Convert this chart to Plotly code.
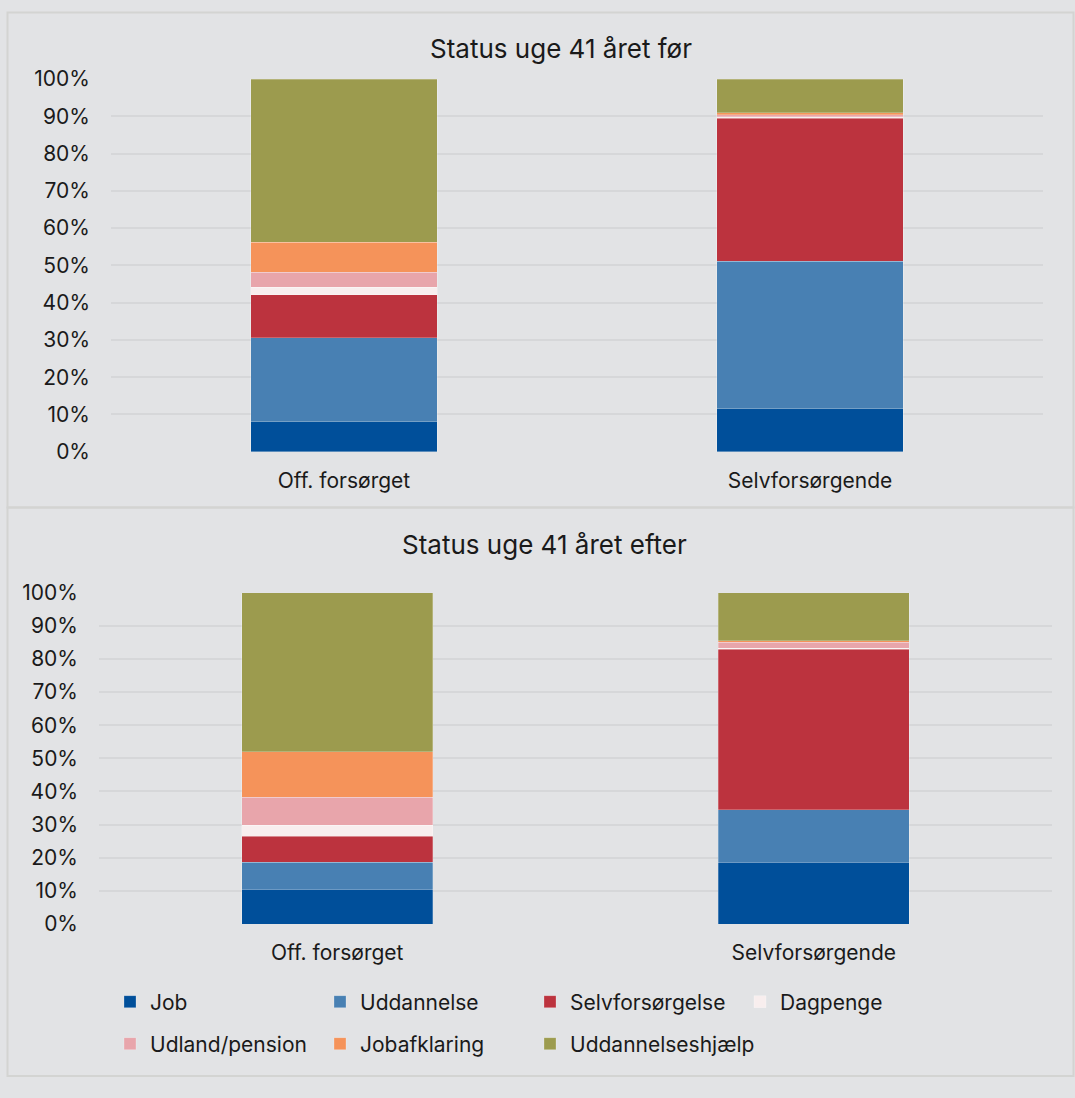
import plotly.graph_objs as go

# Kategorier og andele (procent)
kategorier = ["Off. forsørget", "Selvforsørgende"]
serier = ["Job", "Uddannelse", "Selvforsørgelse", "Dagpenge",
          "Udland/pension", "Jobafklaring", "Uddannelseshjælp"]

# Status uge 41 året før
job_foer = [8.0, 11.5]
uddannelse_foer = [22.6, 39.6]
selvforsoergelse_foer = [11.5, 38.4]
dagpenge_foer = [2.0, 0.4]
udland_foer = [4.1, 0.5]
jobafklaring_foer = [8.0, 0.5]
uddannelseshjaelp_foer = [43.8, 9.1]

# Status uge 41 året efter
job_efter = [10.5, 18.7]
uddannelse_efter = [8.1, 15.8]
selvforsoergelse_efter = [7.9, 48.5]
dagpenge_efter = [3.3, 0.3]
udland_efter = [8.4, 1.7]
jobafklaring_efter = [13.8, 0.5]
uddannelseshjaelp_efter = [48.0, 14.5]

y_ticks = [0, 10, 20, 30, 40, 50, 60, 70, 80, 90, 100]
y_labels = ["0%", "10%", "20%", "30%", "40%", "50%", "60%", "70%", "80%", "90%", "100%"]

farver = ["#004f9a", "#4880b3", "#bc333e", "#f8eeee",
          "#e8a5ab", "#f5935a", "#9c9b4e"]

W, H = 1075, 1098
FONT = "Inter, Roboto, sans-serif"
TXT = "#1a1a1a"
BG = "#e2e3e5"
GRID = "#d6d7d9"


def px(x):
    return x / W


def py(y):
    return 1 - y / H


fig = go.Figure()

foer = [job_foer, uddannelse_foer, selvforsoergelse_foer, dagpenge_foer,
        udland_foer, jobafklaring_foer, uddannelseshjaelp_foer]
efter = [job_efter, uddannelse_efter, selvforsoergelse_efter, dagpenge_efter,
         udland_efter, jobafklaring_efter, uddannelseshjaelp_efter]

for i, navn in enumerate(serier):
    fig.add_trace(go.Bar(
        x=kategorier, y=foer[i], name=navn, legendgroup=navn,
        marker=dict(color=farver[i], line=dict(color="rgba(255,255,255,0.35)", width=0.7)),
        xaxis="x", yaxis="y", showlegend=False,
    ))

for i, navn in enumerate(serier):
    # to legender: første række med fire, anden med tre
    fig.add_trace(go.Bar(
        x=kategorier, y=efter[i], name=navn, legendgroup=navn,
        marker=dict(color=farver[i], line=dict(color="rgba(255,255,255,0.35)", width=0.7)),
        xaxis="x2", yaxis="y2", showlegend=True,
        legend="legend" if i < 4 else "legend2",
        legendwidth=165 if i not in (3, 6) else 220,
    ))

akse_y = dict(range=[0, 100], tickvals=y_ticks, ticktext=y_labels, showgrid=True,
              gridcolor=GRID, gridwidth=2, zeroline=False, showline=False,
              automargin=False, ticklabelstandoff=20,
              tickfont=dict(size=21, color=TXT, family=FONT))
akse_x = dict(showgrid=False, zeroline=False, showline=False, automargin=False,
              ticklabelstandoff=14, tickfont=dict(size=21, color=TXT, family=FONT))

legend_stil = dict(orientation="h", xanchor="left", yanchor="middle",
                   entrywidthmode="pixels",
                   bgcolor="rgba(0,0,0,0)", itemclick=False,
                   font=dict(size=21, color=TXT, family=FONT))

fig.update_layout(
    width=W, height=H,
    margin=dict(l=0, r=0, t=0, b=0, autoexpand=False),
    paper_bgcolor=BG, plot_bgcolor=BG,
    barmode="stack", bargap=0.6,
    font=dict(family=FONT, color=TXT),
    xaxis=dict(domain=[px(111), px(1043)], anchor="y", **akse_x),
    yaxis=dict(domain=[py(451.7), py(79)], anchor="x", **akse_y),
    xaxis2=dict(domain=[px(99), px(1052)], anchor="y2", **akse_x),
    yaxis2=dict(domain=[py(924), py(592.7)], anchor="x2", **akse_y),
    legend=dict(x=px(110), y=py(1002), **legend_stil),
    legend2=dict(x=px(110), y=py(1044), **legend_stil),
)

# Overskrifter
fig.add_annotation(text="Status uge 41 året før", x=px(561), y=py(48),
                   xref="paper", yref="paper", showarrow=False,
                   xanchor="center", yanchor="middle",
                   font=dict(size=26, color=TXT, family=FONT))
fig.add_annotation(text="Status uge 41 året efter", x=px(544), y=py(545),
                   xref="paper", yref="paper", showarrow=False,
                   xanchor="center", yanchor="middle",
                   font=dict(size=26, color=TXT, family=FONT))

# Rammer om de to diagrammer
for y0, y1 in [(12.5, 507.5), (507.5, 1076)]:
    fig.add_shape(type="rect", xref="paper", yref="paper",
                  x0=px(7.5), x1=px(1073.5), y0=py(y1), y1=py(y0),
                  line=dict(color="#d3d4d2", width=2), layer="below")

fig.write_html("out.html", config={"displayModeBar": False},
               post_script="document.body.style.margin='0';")
